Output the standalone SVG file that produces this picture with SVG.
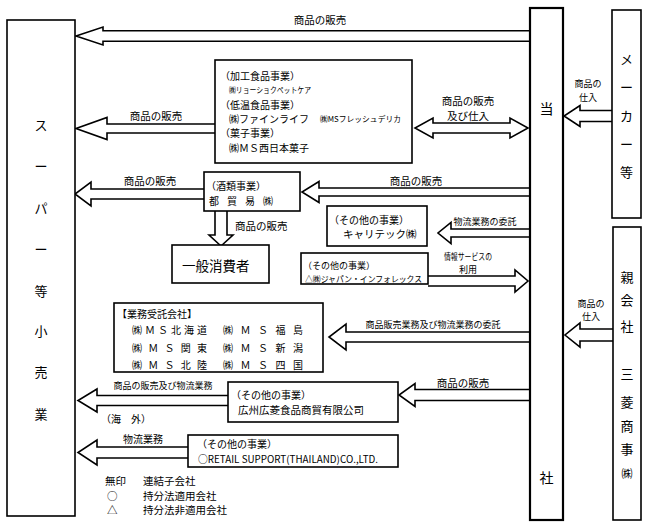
<svg xmlns="http://www.w3.org/2000/svg" width="648" height="528" viewBox="0 0 648 528">
<style>
text{font-family:"Noto Sans CJK JP","Noto Sans",sans-serif;fill:#000;dominant-baseline:central}
.box{fill:#fff;stroke:#000;stroke-width:1.6}
.thick{fill:#fff;stroke:#000;stroke-width:2.2}
.arr{fill:#fff;stroke:#000;stroke-width:1.6;stroke-linejoin:miter}
.v{font-size:13px;text-anchor:middle}
.l{font-size:10.5px}
.s{font-size:9px}
.m{font-size:10px}
.c{text-anchor:middle}
</style>
<rect width="648" height="528" fill="#fff"/>
<g id="connectors">
<path class="arr" d="M530,30.8 H103 V27 L76,36 L103,45 V41.2 H530"/>
<path class="arr" d="M215,124 H107 V117.5 L76,128.5 L107,139.5 V133 H215"/>
<path class="arr" d="M433,123 H510 V118 L528,128 L510,138 V133 H433 V138 L415,128 L433,118 Z"/>
<path class="arr" d="M612,110.5 H580 V105.5 L564,116 L580,126.5 V121.5 H612"/>
<path class="arr" d="M613,329 H580 V323 L565,335 L580,347 V341 H613"/>
<path class="arr" d="M204,189 H91 V182 L75,194 L91,206 V199 H204"/>
<path class="arr" d="M215,211 V235 H209 L221,246 L233,235 H227 V211"/>
<path class="arr" d="M530,188 H319 V181.5 L302,192 L319,202.5 V196 H530"/>
<path class="arr" d="M530,229 H451 V222.5 L438,233 L451,243.5 V237 H530"/>
<path class="arr" d="M428,276 H515 V270 L528,281 L515,292 V286 H428"/>
<path class="arr" d="M530,332 H346 V324 L329,337 L346,350 V342 H530"/>
<path class="arr" d="M530,389.5 H415 V383.5 L399,395 L415,406.5 V400.5 H530"/>
<path class="arr" d="M228,395.5 H97 V389 L78,400.5 L97,412 V405.5 H228"/>
<path class="arr" d="M188,447 H97 V440 L78,452.5 L97,465 V458 H188"/>
<text class="l c" x="320" y="19">商品の販売</text>
<text class="l c" x="156" y="115">商品の販売</text>
<text class="l c" x="468" y="100">商品の販売</text>
<text class="l c" x="468" y="115">及び仕入</text>
<text class="s c" x="588" y="83">商品の</text>
<text class="s c" x="588" y="97">仕入</text>
<text class="s c" x="591" y="303">商品の</text>
<text class="s c" x="591" y="316">仕入</text>
<text class="l c" x="150" y="180">商品の販売</text>
<text class="l" x="235" y="225">商品の販売</text>
<text class="l c" x="416" y="180">商品の販売</text>
<text class="s c" x="485" y="221">物流業務の委託</text>
<text class="s c" x="468" y="256" textLength="48" lengthAdjust="spacingAndGlyphs">情報サービスの</text>
<text class="s c" x="468" y="269.5">利用</text>
<text class="s c" x="433" y="324">商品販売業務及び物流業務の委託</text>
<text class="l c" x="463" y="382">商品の販売</text>
<text class="s c" x="163" y="385">商品の販売及び物流業務</text>
<text class="m" x="101" y="418">（海　外）</text>
<text class="m c" x="143" y="438">物流業務</text>
</g>
<g id="n-super">
<rect class="box" x="7" y="20" width="68" height="496"/>
<text class="v" x="41" y="124">ス</text>
<text class="v" x="41" y="165">ー</text>
<text class="v" x="41" y="207">パ</text>
<text class="v" x="41" y="248">ー</text>
<text class="v" x="41" y="290">等</text>
<text class="v" x="41" y="330">小</text>
<text class="v" x="41" y="371">売</text>
<text class="v" x="41" y="413">業</text>
</g>
<g id="n-tousha">
<rect class="thick" x="530" y="8" width="33" height="512"/>
<text class="v" x="546.5" y="108" style="font-size:14px">当</text>
<text class="v" x="546.5" y="477" style="font-size:14px">社</text>
</g>
<g id="n-maker">
<rect class="box" x="612" y="10" width="29" height="208"/>
<text class="v" x="626.5" y="58">メ</text>
<text class="v" x="626.5" y="86">ー</text>
<text class="v" x="626.5" y="115">カ</text>
<text class="v" x="626.5" y="143">ー</text>
<text class="v" x="626.5" y="171">等</text>
</g>
<g id="n-parent">
<rect class="box" x="613" y="227" width="28" height="293"/>
<text class="v" x="627" y="276">親</text>
<text class="v" x="627" y="299">会</text>
<text class="v" x="627" y="325">社</text>
<text class="v" x="627" y="373">三</text>
<text class="v" x="627" y="401">菱</text>
<text class="v" x="627" y="425">商</text>
<text class="v" x="627" y="448">事</text>
<text class="v" x="627" y="473" style="font-size:11px">㈱</text>
</g>
<g id="n-food">
<rect class="box" x="215" y="60" width="197" height="103"/>
<text class="m" x="220" y="75">（加工食品事業）</text>
<text class="s" x="229" y="89" style="font-size:8px" textLength="82" lengthAdjust="spacingAndGlyphs">㈱リョーショクペットケア</text>
<text class="m" x="220" y="104">（低温食品事業）</text>
<text class="m" x="229" y="118">㈱ファインライフ</text>
<text class="s" x="320" y="118" style="font-size:8px" textLength="81" lengthAdjust="spacingAndGlyphs">㈱MSフレッシュデリカ</text>
<text class="m" x="220" y="132">（菓子事業）</text>
<text class="m" x="229" y="147">㈱ＭＳ西日本菓子</text>
</g>
<g id="n-sake">
<rect class="box" x="204" y="172" width="96" height="39"/>
<text class="m" x="206" y="185">（酒類事業）</text>
<text class="m" x="209" y="200" textLength="64">都 貿 易 ㈱</text>
</g>
<g id="n-consumer">
<rect class="box" x="172" y="245" width="97" height="38"/>
<text x="182" y="265" style="font-size:13.5px">一般消費者</text>
</g>
<g id="n-cari">
<rect class="box" x="327" y="206" width="100" height="40"/>
<text class="m" x="329" y="219">（その他の事業）</text>
<text class="l" x="343" y="233">キャリテック㈱</text>
</g>
<g id="n-japan">
<rect class="box" x="301" y="253" width="127" height="31"/>
<text class="s" x="303" y="265">（その他の事業）</text>
<text class="s" x="305" y="277.5" style="font-size:8.5px" textLength="117" lengthAdjust="spacingAndGlyphs">△㈱ジャパン・インフォレックス</text>
</g>
<g id="n-ms">
<rect class="box" x="114" y="303" width="209" height="69"/>
<text class="m" x="117" y="313">【業務受託会社】</text>
<text class="m" x="132" y="329" textLength="75">㈱ＭＳ北海道</text>
<text class="m" x="223" y="329" textLength="80">㈱ Ｍ Ｓ 福 島</text>
<text class="m" x="132" y="347" textLength="75">㈱ Ｍ Ｓ 関 東</text>
<text class="m" x="223" y="347" textLength="80">㈱ Ｍ Ｓ 新 潟</text>
<text class="m" x="132" y="364" textLength="75">㈱ Ｍ Ｓ 北 陸</text>
<text class="m" x="223" y="364" textLength="80">㈱ Ｍ Ｓ 四 国</text>
</g>
<g id="n-guangzhou">
<rect class="box" x="228" y="382" width="170" height="40"/>
<text class="m" x="231" y="394">（その他の事業）</text>
<text class="l" x="238" y="409">広州広菱食品商貿有限公司</text>
</g>
<g id="n-retail">
<rect class="box" x="188" y="435" width="210" height="32"/>
<text class="m" x="197" y="443">（その他の事業）</text>
<text class="m" x="198" y="458" textLength="180" lengthAdjust="spacingAndGlyphs">○RETAIL SUPPORT(THAILAND)CO.,LTD.</text>
</g>
<g id="legend">
<text class="l" x="105" y="480">無印</text>
<text class="l" x="143" y="480">連結子会社</text>
<text class="l" x="107" y="495">○</text>
<text class="l" x="143" y="495">持分法適用会社</text>
<text class="l" x="107" y="509">△</text>
<text class="l" x="143" y="509">持分法非適用会社</text>
</g>
</svg>
